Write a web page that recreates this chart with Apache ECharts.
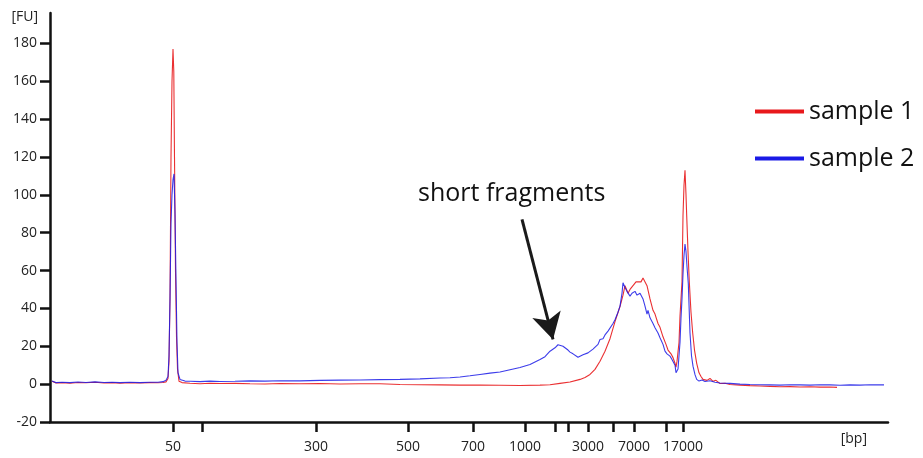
<!DOCTYPE html>
<html>
<head>
<meta charset="utf-8">
<script src="https://cdn.jsdelivr.net/npm/echarts@6/dist/echarts.min.js"></script>
<style>
  html, body { margin: 0; padding: 0; background: #fff; }
  #chart { width: 923px; height: 458px; }
</style>
</head>
<body>
<div id="chart"></div>
<script>
/*
* electropherogram, two samples
* x = migration position (arbitrary units), ladder ticks mapped to bp
*/
var ladderPos = [173, 202, 316, 408, 473, 525, 555, 568, 588, 613, 634, 666, 683];
var ladderBp  = ['50', '', '300', '500', '700', '1000', '', '', '3000', '', '7000', '', '17000'];
var fuTicks = [-20, 0, 20, 40, 60, 80, 100, 120, 140, 160, 180];

// sample 1 (red)
var sample1 = [
  [52,1.5],[56,0.6],[62,0.8],[70,0.5],[78,0.9],[86,0.7],[95,1.0],[104,0.6],[112,0.8],[120,0.5],
  [130,0.7],[140,0.6],[150,0.8],[158,0.7],[163,0.9],[166,1.2],[168,3],[169,12],[170,45],[171,120],
  [172,160],[173,177],[173.8,165],[174.5,120],[175.5,60],[176.5,25],[177.5,8],[179,1.5],[182,0.8],
  [190,0.5],[200,0.2],[210,0.5],[220,0.3],[235,0.4],[250,0.2],[265,0.1],[280,0.3],[300,0.2],
  [320,0.3],[340,0.1],[360,0.2],[380,0.2],[400,-0.2],[420,-0.3],[440,-0.4],[460,-0.5],[480,-0.5],
  [500,-0.6],[520,-0.7],[540,-0.5],[550,-0.3],[560,0.4],[570,1.1],[580,2.5],[585,3.5],[590,5.1],
  [595,7.8],[600,12.1],[605,17.4],[610,24],[615,33],[620,41],[623,47],[625,52],[628,48],[630,50],
  [633,52],[636,54],[638,55],[641,54],[643,56],[645,55],[647,52],[650,45],[653,39],[655,37],
  [658,32],[660,30],[663,25],[666,21],[668,18],[671,16],[673,14],[675,11],[676,9],[677,12],
  [679,22],[680,36],[682,54],[683,89],[684,105],[685,113],[686,100],[686.7,89],[688,70],[689.3,54],
  [691,38],[692.7,27],[694.5,18],[696.7,11],[699,6],[701,4],[703,2.5],[705,3.5],[707,2],[710,3],
  [713,1.5],[716,2],[720,0.3],[725,0.5],[730,-0.2],[740,-0.5],[750,-0.8],[760,-1],[770,-1.2],
  [780,-1.4],[790,-1.3],[800,-1.5],[810,-1.4],[820,-1.6],[830,-1.5],[837,-1.7]
];

// sample 2 (blue)
var sample2 = [
  [52,1.6],[56,0.8],[62,1.0],[70,0.8],[78,1.1],[86,0.9],[95,1.2],[104,0.9],[112,1.0],[120,0.8],
  [130,1.0],[140,0.8],[150,1.0],[158,1.0],[163,1.3],[166,2],[168,4],[169,15],[170,45],[171,85],
  [172,100],[173,108],[174,111],[175,90],[176,55],[177,22],[178,6],[180,2.5],[185,1.6],[190,1.5],
  [200,1.3],[210,1.6],[220,1.4],[235,1.5],[250,1.7],[265,1.6],[280,1.8],[300,1.7],[320,2.0],
  [340,2.1],[360,2.2],[380,2.4],[400,2.5],[420,2.8],[440,3.2],[450,3.4],[460,3.8],[470,4.4],
  [480,5.1],[490,5.8],[500,6.4],[510,7.6],[520,8.8],[530,10.4],[540,13],[545,14.5],[550,17.4],
  [555,19.2],[558,20.8],[560,20.4],[563,20],[565,19.4],[568,18],[570,16.9],[573,16],[575,15.2],
  [578,14.2],[580,14.5],[583,15.5],[585,15.2],[588,16.5],[590,16.9],[593,18.5],[595,19.2],[598,21],
  [600,23.6],[603,24],[605,26],[608,28],[610,29],[613,32],[615,34],[618,38],[620,41.2],[622,48],
  [623,53.5],[624,54],[625,51],[627,49],[629,50],[630,46.5],[632,48],[635,49],[637,47],[638,46.5],
  [640,48],[642,49],[643,45],[645,41.2],[647,37],[648,39],[650,35],[653,32],[655,29.8],[658,27],
  [660,24.5],[663,21],[665,17.4],[667,16],[670,14.8],[672,13],[673,12.1],[675,10],[676,6],[677,5.1],
  [678,8],[680,22],[681,35],[682,45],[683,58],[684,68],[685,74],[686,70],[687,62],[688.3,53],
  [690,27],[691.5,15],[693,9.5],[695,5],[696.7,2.5],[699,1.6],[702,2.2],[705,1.4],[710,1.8],
  [715,1],[720,0.6],[730,0.4],[740,0],[750,-0.2],[760,-0.3],[770,-0.4],[780,-0.5],[790,-0.3],
  [800,-0.4],[810,-0.5],[820,-0.3],[830,-0.4],[840,-0.6],[850,-0.4],[860,-0.5],[870,-0.3],[884,-0.4]
];

// arrow pointing at the short fragment hump
var arrowFrom = [522, 87];
var arrowTo = [553, 23.6];

var labelled = [];
for (var i = 0; i < ladderPos.length; i++) {
  if (ladderBp[i] !== '') labelled.push(ladderPos[i]);
}
function bpLabel(v) {
  var k = ladderPos.indexOf(v);
  return k < 0 ? '' : ladderBp[k];
}

var font = 'Open Sans';
var axisColor = '#111';

var option = {
  backgroundColor: '#fff',
  animation: false,
  grid: { left: 50, right: 35, top: 13, bottom: 36 },
  legend: {
    orient: 'vertical',
    left: 750,
    top: 94,
    itemWidth: 49,
    itemHeight: 4,
    itemGap: 22,
    icon: 'rect',
    textStyle: { fontFamily: font, fontSize: 25, color: '#111' },
    data: ['sample 1', 'sample 2']
  },
  xAxis: {
    type: 'value',
    min: 50,
    max: 888,
    name: '[bp]',
    nameLocation: 'end',
    nameGap: -21,
    nameTextStyle: { fontFamily: font, fontSize: 14, color: '#222', align: 'right', verticalAlign: 'top', padding: [10, 0, 0, 0] },
    splitLine: { show: false },
    axisLine: { onZero: false, lineStyle: { color: axisColor, width: 2.5 } },
    axisTick: { customValues: ladderPos, length: 10, lineStyle: { color: axisColor, width: 2.5 } },
    axisLabel: {
      customValues: labelled,
      margin: 18,
      fontFamily: font, fontSize: 14, color: '#222',
      formatter: bpLabel
    }
  },
  yAxis: {
    type: 'value',
    min: -20,
    max: 196,
    name: '[FU]',
    nameLocation: 'end',
    nameGap: -4,
    nameTextStyle: { fontFamily: font, fontSize: 14, color: '#222', align: 'right', verticalAlign: 'middle', padding: [0, 12, 0, 0] },
    splitLine: { show: false },
    axisLine: { show: true, lineStyle: { color: axisColor, width: 2.5 } },
    axisTick: { show: true, customValues: fuTicks, length: 10, lineStyle: { color: axisColor, width: 2.5 } },
    axisLabel: { customValues: fuTicks, margin: 13, fontFamily: font, fontSize: 14, color: '#222' }
  },
  graphic: [{
    type: 'text',
    left: 418,
    top: 181,
    style: { text: 'short fragments', fontFamily: font, fontSize: 25, fill: '#111' }
  }],
  series: [{
    name: 'sample 1',
    type: 'line',
    data: sample1,
    showSymbol: false,
    color: '#e8191c',
    lineStyle: { width: 1.1, color: '#e8191c', opacity: 0.9 }
  }, {
    name: 'sample 2',
    type: 'line',
    data: sample2,
    showSymbol: false,
    color: '#1a1ae6',
    lineStyle: { width: 1.1, color: '#1a1ae6', opacity: 0.85 },
    markLine: {
      silent: true,
      symbol: ['none', 'arrow'],
      symbolSize: [22, 26],
      label: { show: false },
      lineStyle: { color: '#1a1a1a', width: 3, type: 'solid' },
      data: [[{ coord: arrowFrom }, { coord: arrowTo }]]
    }
  }]
};

var chart = echarts.init(document.getElementById('chart'));
chart.setOption(option);
</script>
</body>
</html>
